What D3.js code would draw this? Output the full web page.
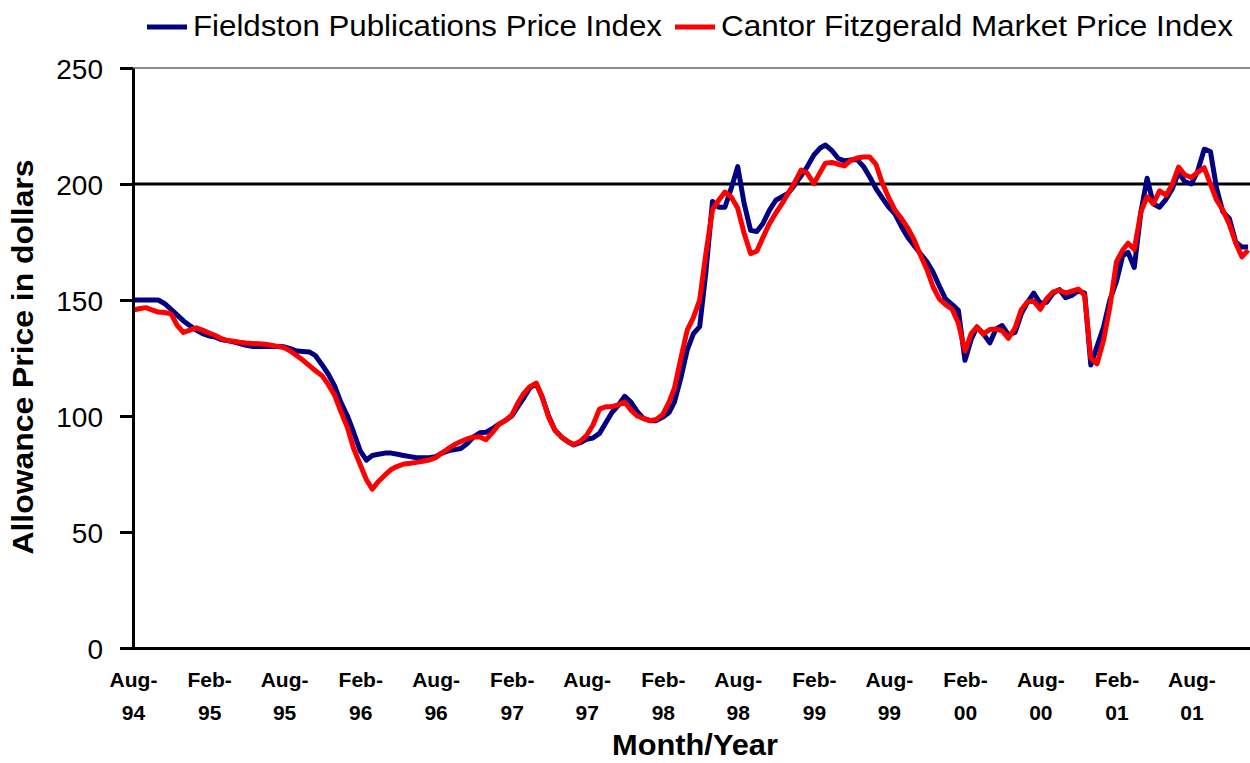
<!DOCTYPE html>
<html>
<head>
<meta charset="utf-8">
<script src="https://cdn.jsdelivr.net/npm/d3@7"></script>
<style>
  body { margin: 0; background: #fff; }
  svg { display: block; font-family: "Liberation Sans", Arial, sans-serif; }
</style>
</head>
<body>
<svg id="chart" width="1250" height="763"></svg>
<script>
"use strict";

// readings on the 1st and 16th of every month, Aug 1994 .. Dec 2001
var fieldston = [
    150, 150, 150, 150, 150, 148.5, 146, 143.5, 141, 139,
    137, 135.5, 134.5, 134, 133, 132.5, 132, 131.2, 130.5, 130,
    130, 130, 130, 130, 129.8, 129, 128, 127.8, 127.6, 126,
    122, 118, 113, 106, 100, 93, 85, 81, 83, 83.5,
    84, 84, 83.5, 83, 82.5, 82, 82, 82, 82.5, 84,
    85, 85.5, 86, 88, 91, 92.8, 93, 94.5, 96.5, 98,
    100, 104, 107.5, 112, 114, 108, 100, 94, 91, 89,
    87.5, 88.5, 90, 90.5, 92.5, 97, 101.5, 104.5, 108.5, 106,
    102, 99, 98, 98, 99.5, 101.5, 106, 116, 128.5, 135.5,
    138.5, 162, 192.5, 190, 190, 198, 207.5, 192, 180, 179.5,
    183, 188.5, 193, 194.5, 196, 199.5, 203.5, 207.5, 212.5, 215.5,
    216.8, 214.5, 211, 210, 210.3, 210.6, 207.5, 203, 198, 194,
    190, 187, 181.5, 177, 173.5, 170, 166.5, 162, 156, 150.5,
    148, 145.5, 124, 133, 138.4, 135.5, 131.5, 137.5, 139, 135,
    136, 144, 149, 153, 148.6, 149, 153, 154.5, 151, 152,
    154, 153, 122, 130, 138.5, 150, 158, 169, 170.5, 164,
    188, 202.5, 191.5, 190, 193.5, 198, 205, 201, 200, 205.5,
    215, 214, 198, 188, 185, 175, 172.8, 172.8
];
var cantor = [
    145.7, 146.2, 146.7, 145.7, 144.8, 144.6, 144, 139, 136, 137,
    138, 137, 135.8, 134.7, 133.5, 132.6, 132.2, 131.8, 131.5, 131.3,
    131.1, 130.9, 130.5, 130, 129.5, 128, 126, 124, 121.7, 119.5,
    117.3, 113.5, 109, 102, 95, 86, 79, 72.5, 68.5, 71.8,
    74.6, 77, 78.3, 79.3, 79.6, 80, 80.5, 81, 82, 84,
    86, 87.7, 89, 90.1, 91, 91, 89.8, 92.8, 96.4, 98,
    100.4, 105.7, 109.5, 112.5, 114.2, 108, 99.5, 94, 91, 89,
    87.7, 89, 91.7, 96, 103, 104, 104, 104.8, 106, 102.5,
    100, 99, 98, 98.5, 100.7, 106, 112, 124.5, 137, 142.5,
    150, 170, 189, 193, 196.5, 194.5, 189.5, 179, 170, 171,
    177, 182.7, 187.5, 191.5, 196, 200.5, 206, 204.6, 200.2, 205,
    209, 209.3, 208.5, 207.8, 210.2, 211.2, 211.6, 211.6, 208.5, 200.5,
    194, 188.7, 185, 181, 176, 169.5, 163.2, 155.6, 150.5, 148,
    146, 140, 128, 135.5, 138.4, 135.3, 137.3, 137.5, 136.7, 133.5,
    138, 145.8, 149.2, 149.5, 146, 150.5, 153.5, 154.2, 153, 153.8,
    154.7, 152, 125, 122.5, 132.8, 147, 166.5, 171.5, 174.5, 171.8,
    188, 194.5, 191.5, 197, 195.2, 200, 207.3, 204, 202.8, 205,
    207, 200, 193, 188.8, 182.5, 174.6, 168.6, 171.5
];
var seriesNames = ["Fieldston Publications Price Index", "Cantor Fitzgerald Market Price Index"];
var seriesColors = ["#000080", "#ff0000"];
var yTicks = [0, 50, 100, 150, 200, 250];
var xTickLabels = ["1994-08", "1995-02", "1995-08", "1996-02", "1996-08", "1997-02", "1997-08", "1998-02",
    "1998-08", "1999-02", "1999-08", "2000-02", "2000-08", "2001-02", "2001-08"];

var parseMonth = d3.timeParse("%Y-%m");
var dates = [];
d3.timeMonth.range(new Date(1994, 7, 1), new Date(2002, 0, 1)).forEach(function (m) {
    dates.push(m, d3.timeDay.offset(m, 15));
});

var svg = d3.select("#chart");

var x = d3.scaleTime()
    .domain([new Date(1994, 7, 1), new Date(2001, 7, 1)])
    .range([133, 1191.4]);
var y = d3.scaleLinear().domain([0, 250]).range([648, 68]);

// gridlines: grey frame line at the top, black line at 200
svg.append("line")
    .attr("x1", 133).attr("x2", 1250)
    .attr("y1", y(250)).attr("y2", y(250))
    .attr("stroke", "#8c8c8c").attr("stroke-width", 2);
svg.append("line")
    .attr("x1", 133).attr("x2", 1250)
    .attr("y1", y(200)).attr("y2", y(200))
    .attr("stroke", "#000").attr("stroke-width", 3);

var line = d3.line()
    .x(function (d, i) { return x(dates[i]); })
    .y(function (d) { return y(d); });

svg.selectAll(".series").data([fieldston, cantor])
    .enter().append("path")
    .attr("class", "series")
    .attr("d", line)
    .attr("fill", "none")
    .attr("stroke", function (d, i) { return seriesColors[i]; })
    .attr("stroke-width", 5)
    .attr("stroke-linejoin", "round");

// y axis
var gy = svg.append("g")
    .attr("transform", "translate(133,0)")
    .call(d3.axisLeft(y).tickValues(yTicks).tickSize(13).tickSizeOuter(0).tickPadding(17));
gy.select(".domain").attr("stroke-width", 3);
gy.selectAll(".tick line").attr("stroke-width", 3);
gy.selectAll(".tick text")
    .attr("font-family", "'Liberation Sans', Arial, sans-serif")
    .attr("font-size", 28)
    .attr("dy", "0.36em")
    .attr("fill", "#000");

// x axis
var fmtMon = d3.timeFormat("%b"), fmtYr = d3.timeFormat("%y");
var gx = svg.append("g")
    .attr("transform", "translate(0,648)")
    .call(d3.axisBottom(x).tickValues(xTickLabels.map(parseMonth)).tickSize(0).tickSizeOuter(0));
gx.select(".domain").attr("d", "M120,0.5H1250").attr("stroke-width", 3);
gx.selectAll(".tick text")
    .attr("dy", null)
    .attr("y", null)
    .attr("font-family", "'Liberation Sans', Arial, sans-serif")
    .attr("font-size", 21)
    .attr("font-weight", "bold")
    .attr("fill", "#000")
    .text(null)
    .each(function (d) {
        var t = d3.select(this);
        t.append("tspan").attr("x", 0).attr("y", 39).text(fmtMon(d) + "-");
        t.append("tspan").attr("x", 0).attr("y", 72).text(fmtYr(d));
    });

// axis titles
svg.append("text")
    .attr("transform", "translate(33,357) rotate(-90)")
    .attr("text-anchor", "middle")
    .attr("font-size", 30)
    .attr("font-weight", "bold")
    .attr("textLength", 395)
    .attr("lengthAdjust", "spacingAndGlyphs")
    .text("Allowance Price in dollars");
svg.append("text")
    .attr("x", 695).attr("y", 755)
    .attr("text-anchor", "middle")
    .attr("font-size", 29)
    .attr("font-weight", "bold")
    .attr("textLength", 166)
    .attr("lengthAdjust", "spacingAndGlyphs")
    .text("Month/Year");

// legend
var legendX = [[147, 193, 469], [675, 721, 512]];
var leg = svg.selectAll(".legend").data(seriesNames)
    .enter().append("g")
    .attr("class", "legend");
leg.append("line")
    .attr("x1", function (d, i) { return legendX[i][0]; })
    .attr("x2", function (d, i) { return legendX[i][0] + 40; })
    .attr("y1", 27).attr("y2", 27)
    .attr("stroke", function (d, i) { return seriesColors[i]; })
    .attr("stroke-width", 5);
leg.append("text")
    .attr("x", function (d, i) { return legendX[i][1]; })
    .attr("y", 36)
    .attr("font-size", 30)
    .attr("textLength", function (d, i) { return legendX[i][2]; })
    .attr("lengthAdjust", "spacingAndGlyphs")
    .text(function (d) { return d; });
</script>
</body>
</html>
